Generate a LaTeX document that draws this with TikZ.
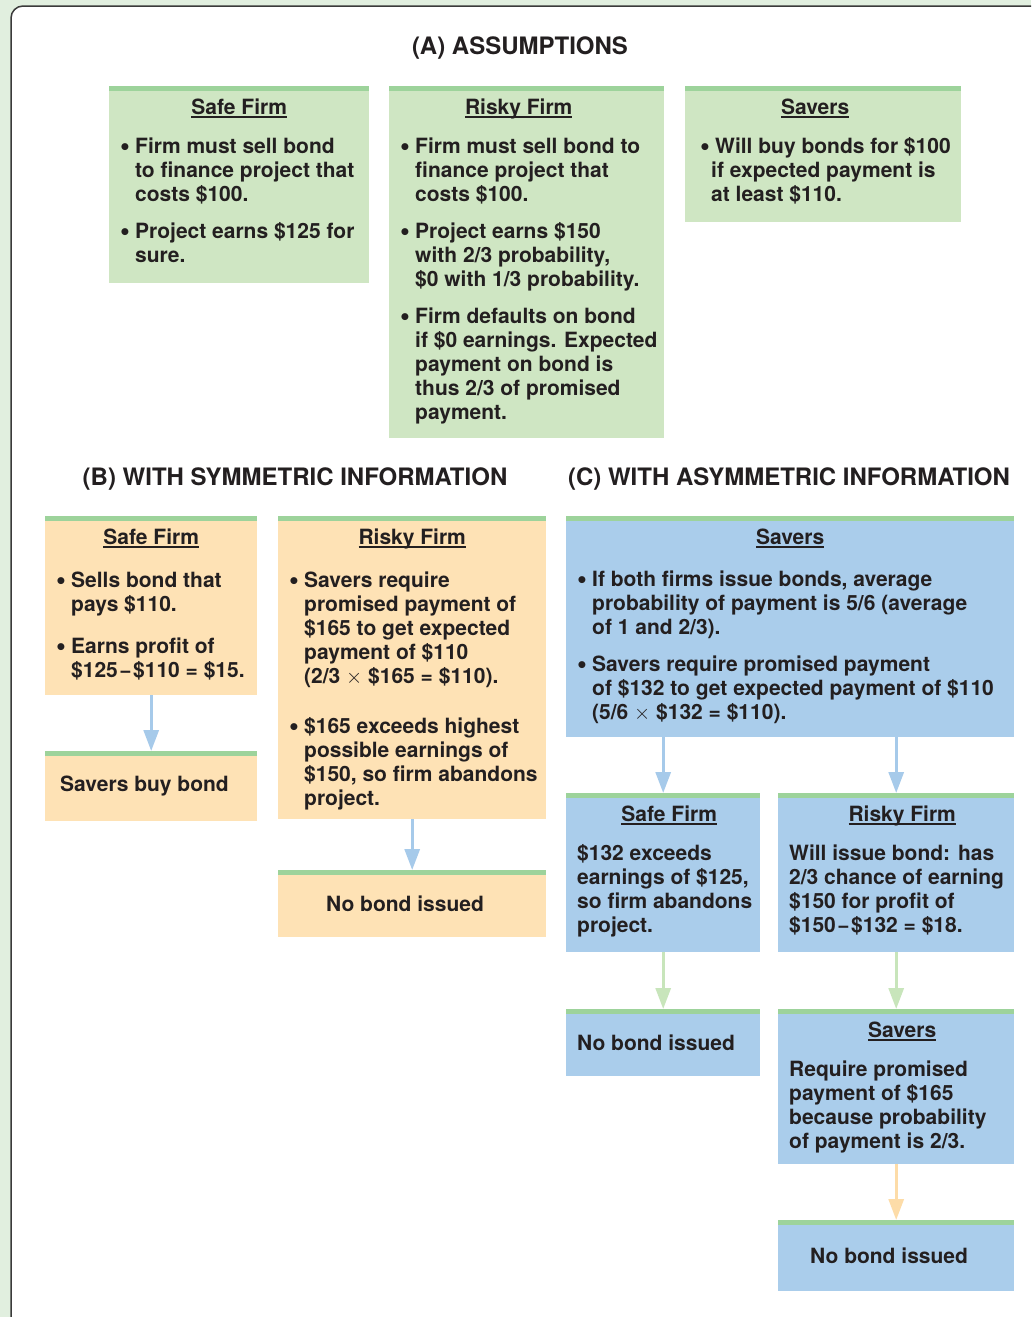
\documentclass[tikz,border=0pt]{standalone}
\usepackage{fontspec}
\setmainfont{TeX Gyre Heros}
\usetikzlibrary{arrows.meta, positioning}

\definecolor{bgGreen}{HTML}{E1EFDF}
\definecolor{frameGray}{HTML}{3A3A3A}
\definecolor{inkBlack}{HTML}{231F20}
\definecolor{boxGreen}{HTML}{CFE6C3}
\definecolor{barGreen}{HTML}{9DD39B}
\definecolor{boxOrange}{HTML}{FEE2B5}
\definecolor{boxBlue}{HTML}{AACDEB}
\definecolor{arrBlue}{HTML}{A6CAEA}
\definecolor{arrGreen}{HTML}{C8E5BB}
\definecolor{arrOrange}{HTML}{FDDCA8}

\newcommand{\bodyfont}{\fontsize{21}{24}\selectfont\bfseries}
\newcommand{\headfont}{\fontsize{24}{28}\selectfont\bfseries}
% panel text: width, height, content
\newcommand{\ptext}[3]{\hspace*{11pt}\parbox[c][#2][t]{\dimexpr#1-11pt\relax}{\raggedright\rightskip=-12pt plus 1fil\setlength{\parskip}{13pt}#3}}
% underlined title, optional horizontal shift
\newcommand{\ttl}[2][0pt]{{\centering\hspace*{\dimexpr-11pt+2\dimexpr#1\relax\relax}\rule{0pt}{28pt}\setbox0\hbox{#2}\rlap{\rule[-3.5pt]{\wd0}{1.3pt}}\box0\par}\vspace{2pt}}
\newcommand{\bul}[1]{{\let\\\newline\hangindent=15pt\hangafter=1\noindent\makebox[15pt][l]{\raisebox{-2pt}{\fontsize{28}{24}\selectfont•}}#1\par}}
\newcommand{\plain}[1]{{\let\\\newline\noindent#1\par}}
\newcommand{\mn}{\kern1.5pt−\kern1.5pt}
% single-line box text: box width, left gap, text
\newcommand{\ltext}[3]{\makebox[#1][l]{\hspace*{#2}#3}}

\tikzset{
  panel/.style={anchor=north west, inner sep=0pt, font=\bodyfont, text=inkBlack,
    path picture={\fill[barGreen] (path picture bounding box.north west) rectangle ([yshift=-5pt]path picture bounding box.north east);}},
  greenbox/.style={panel, fill=boxGreen},
  orangebox/.style={panel, fill=boxOrange},
  bluebox/.style={panel, fill=boxBlue},
  heading/.style={font=\headfont, text=inkBlack},
  flow/.style={-{Triangle[length=21pt,width=15pt]}, line width=3pt}
}

\begin{document}
\begin{tikzpicture}[x=1pt, y=-1pt]
  \useasboundingbox (0,0) rectangle (1031,1317);
  \fill[bgGreen] (0,0) rectangle (1031,1317);
  \clip (0,0) rectangle (1031,1317);
  \draw[frameGray, line width=1.5pt, fill=white, rounded corners=12pt] (11,6) rectangle (1070,1350);

  % Assumptions
  \node[heading] (hA) at (520,48) {(A) ASSUMPTIONS};

  \node[greenbox, minimum width=260pt, minimum height=197pt] (aSafe) at (109,86)
    {\ptext{260pt}{197pt}{\ttl{Safe Firm}
      \bul{Firm must sell bond\\to finance project that\\costs \$100.}
      \bul{Project earns \$125 for\\sure.}}};
  \node[greenbox, minimum width=275pt, minimum height=352pt] (aRisky) at (389,86)
    {\ptext{275pt}{352pt}{\ttl[-8pt]{Risky Firm}
      \bul{Firm must sell bond to\\finance project that\\costs \$100.}
      \bul{Project earns \$150\\with 2/3 probability,\\\$0 with 1/3 probability.}
      \bul{Firm defaults on bond\\if \$0 earnings. Expected\\payment on bond is\\thus 2/3 of promised\\payment.}}};
  \node[greenbox, minimum width=276pt, minimum height=136pt] (aSavers) at (685,86)
    {\ptext{276pt}{136pt}{\ttl[-8pt]{Savers}
      \hspace*{4pt}\bul{Will buy bonds for \$100\\if expected payment is\\at least \$110.}}};

  % Symmetric information
  \node[heading] (hB) at (295,479) {(B) WITH SYMMETRIC INFORMATION};

  \node[orangebox, minimum width=212pt, minimum height=179pt] (bSafe) at (45,516)
    {\ptext{212pt}{179pt}{\ttl{Safe Firm}\vspace{4pt}
      \bul{Sells bond that\\pays \$110.}\vspace{5pt}
      \bul{Earns profit of\\\$125\mn\$110 = \$15.}}};
  \node[orangebox, minimum width=212pt, minimum height=70pt] (bSavers) at (45,751)
    {\raisebox{-2pt}{\ltext{212pt}{15pt}{Savers buy bond}}};

  \node[orangebox, minimum width=268pt, minimum height=303pt] (bRisky) at (278,516)
    {\ptext{268pt}{303pt}{\ttl{Risky Firm}\vspace{4pt}
      \bul{Savers require\\promised payment of\\\$165 to get expected\\payment of \$110\\(2/3 $\times$ \$165 = \$110).}\vspace{13pt}
      \bul{\$165 exceeds highest\\possible earnings of\\\$150, so firm abandons\\project.}}};
  \node[orangebox, minimum width=268pt, minimum height=67pt] (bNone) at (278,870)
    {\ltext{268pt}{48pt}{No bond issued}};

  \draw[flow, arrBlue] (bSafe) -- (bSavers);
  \draw[flow, arrBlue] (bRisky) -- (bNone);

  % Asymmetric information
  \node[heading] (hC) at (789,479) {(C) WITH ASYMMETRIC INFORMATION};

  \node[bluebox, minimum width=448pt, minimum height=221pt] (cSavers) at (566,516)
    {\ptext{448pt}{221pt}{\ttl{Savers}\vspace{3pt}
      \bul{If both firms issue bonds, average\\probability of payment is 5/6 (average\\of 1 and 2/3).}
      \bul{Savers require promised payment\\of \$132 to get expected payment of \$110\\(5/6 $\times$ \$132 = \$110).}}};

  \node[bluebox, minimum width=194pt, minimum height=159pt] (cSafe) at (566,793)
    {\ptext{194pt}{159pt}{\ttl[6pt]{Safe Firm}
      \plain{\$132 exceeds\\earnings of \$125,\\so firm abandons\\project.}}};
  \node[bluebox, minimum width=236pt, minimum height=159pt] (cRisky) at (778,793)
    {\ptext{236pt}{159pt}{\ttl[6pt]{Risky Firm}
      \plain{Will issue bond: has\\2/3 chance of earning\\\$150 for profit of\\\$150\mn\$132 = \$18.}}};

  \node[bluebox, minimum width=194pt, minimum height=67pt] (cSafeNone) at (566,1009)
    {\ltext{194pt}{11pt}{No bond issued}};
  \node[bluebox, minimum width=236pt, minimum height=155pt] (cSavers2) at (778,1009)
    {\ptext{236pt}{155pt}{\ttl[6pt]{Savers}
      \plain{Require promised\\payment of \$165\\because probability\\of payment is 2/3.}}};
  \node[bluebox, minimum width=236pt, minimum height=71pt] (cRiskyNone) at (778,1220)
    {\raisebox{-2pt}{\ltext{236pt}{32pt}{No bond issued}}};

  \draw[flow, arrBlue] (cSafe.north |- cSavers.south) -- (cSafe.north);
  \draw[flow, arrBlue] (cRisky.north |- cSavers.south) -- (cRisky.north);
  \draw[flow, arrGreen] (cSafe) -- (cSafeNone);
  \draw[flow, arrGreen] (cRisky) -- (cSavers2);
  \draw[flow, arrOrange] (cSavers2) -- (cRiskyNone);
\end{tikzpicture}
\end{document}
